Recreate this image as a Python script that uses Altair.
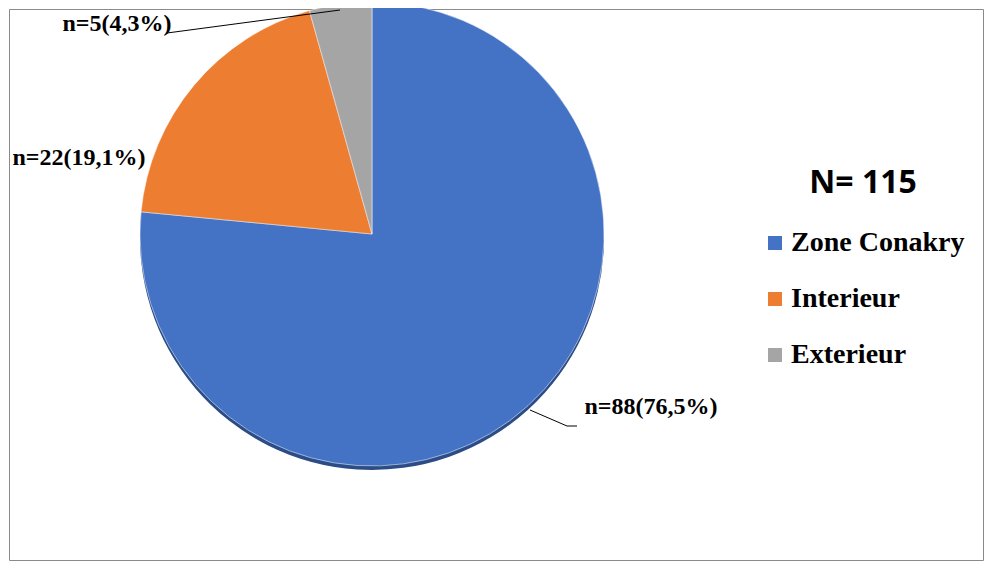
import altair as alt
import pandas as pd

categories = ["Zone Conakry", "Interieur", "Exterieur"]
counts = [88, 22, 5]
labels = ["n=88(76,5%)", "n=22(19,1%)", "n=5(4,3%)"]
colors = ["#4472C4", "#ED7D31", "#A5A5A5"]
total_label = "N= 115"

df = pd.DataFrame({"cat": categories, "n": counts, "label": labels, "idx": [0, 1, 2]})

CX, CY, R = 363, 225, 232

base = alt.Chart(df)
theta = alt.Theta("n:Q", stack=True)
order = alt.Order("idx:Q")

shadow = base.mark_arc(radius=R, color="#2B4C86").encode(
    theta=theta, order=order, x=alt.value(CX), y=alt.value(CY + 4)
)

pie = base.mark_arc(radius=R, stroke="white", strokeWidth=0.5).encode(
    theta=theta,
    order=order,
    x=alt.value(CX),
    y=alt.value(CY),
    color=alt.Color(
        "cat:N",
        scale=alt.Scale(domain=categories, range=colors),
        legend=alt.Legend(
            title=total_label,
            orient="none",
            legendX=752,
            legendY=159,
            padding=0,
            titleFont="Open Sans",
            titleFontWeight="bold",
            titleFontSize=32,
            titleColor="black",
            titleAnchor="middle",
            titlePadding=29,
            labelFont="Liberation Serif",
            labelFontWeight="bold",
            labelFontSize=28,
            labelColor="black",
            labelOffset=2,
            labelLimit=400,
            symbolType="square",
            symbolSize=196,
            symbolStrokeWidth=0,
            rowPadding=28,
        ),
    ),
)

def label_layer(cat, x, y):
    return base.transform_filter(alt.datum.cat == cat).mark_text(
        font="Liberation Serif", fontWeight="bold", fontSize=24, color="black",
        align="center", baseline="middle"
    ).encode(text="label:N", x=alt.value(x), y=alt.value(y))

lab88 = label_layer("Zone Conakry", 642, 398)
lab22 = label_layer("Interieur", 70, 149)
lab5 = label_layer("Exterieur", 108, 15)

def rule(cat, x1, y1, x2, y2):
    return base.transform_filter(alt.datum.cat == cat).mark_rule(
        color="black", strokeWidth=1
    ).encode(x=alt.value(x1), y=alt.value(y1), x2=alt.value(x2), y2=alt.value(y2))

lines = [
    rule("Exterieur", 158, 24, 331, 1),
    rule("Zone Conakry", 521, 401, 558, 417),
    rule("Zone Conakry", 558, 417, 568, 417),
]

chart = alt.layer(shadow, pie, *lines, lab88, lab22, lab5).properties(
    width=974, height=551, autosize=alt.AutoSizeParams(type="none"), padding=1
).configure_view(stroke="#8a8a8a", strokeWidth=1)

chart.save("out.html", embed_options={"renderer": "svg", "actions": False})
